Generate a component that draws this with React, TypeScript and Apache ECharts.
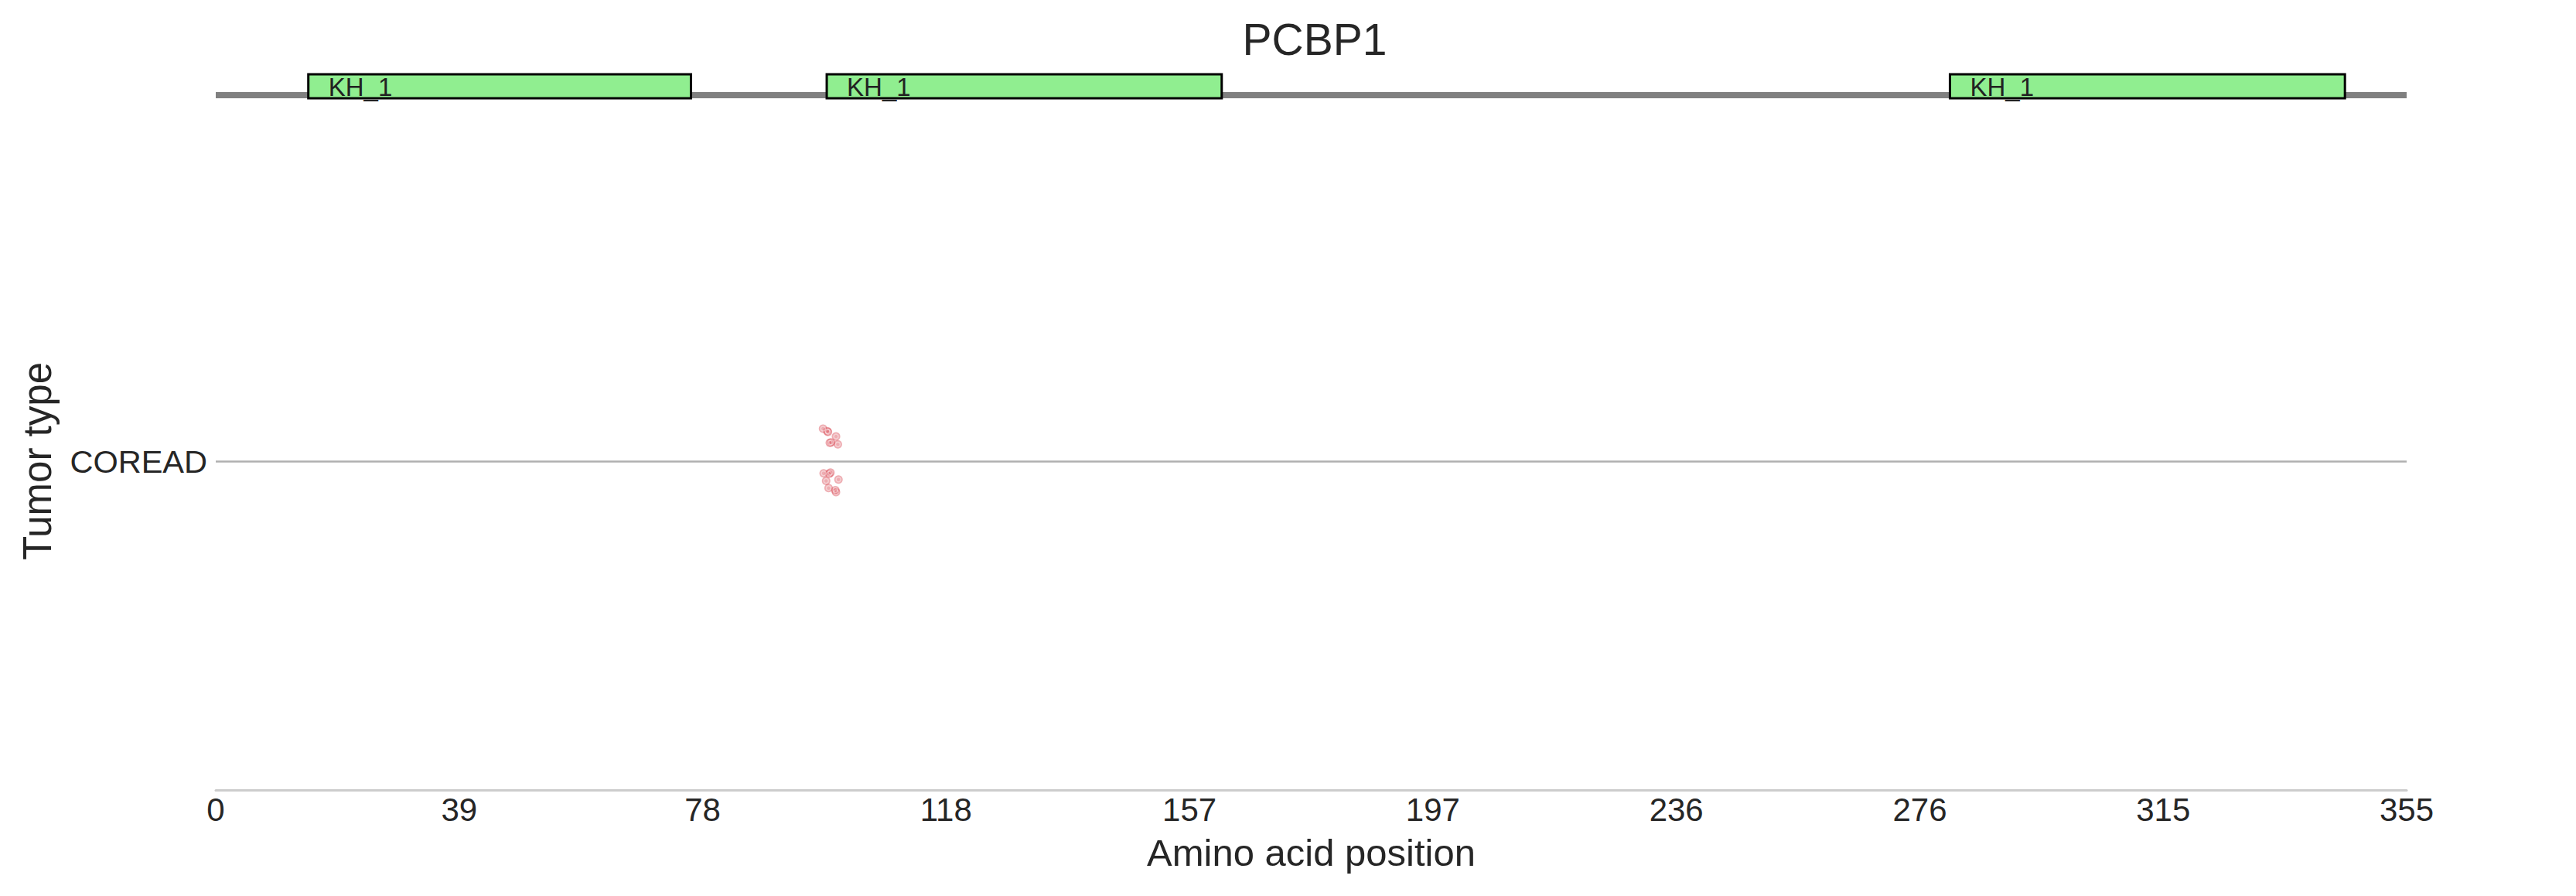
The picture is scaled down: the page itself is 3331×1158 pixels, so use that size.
import React, { useEffect, useRef } from "react";
import * as echarts from "echarts";

const geneName = "PCBP1";
const proteinLength = 355;
const tumorTypes = ["COREAD"];
const xTickLabels = ["0", "39", "78", "118", "157", "197", "236", "276", "315", "355"];

const domainNames = ["KH_1", "KH_1", "KH_1"];
const domainStarts = [15, 99, 281];
const domainEnds = [77, 163, 345];

// mutation positions (jittered) and vertical jitter around the COREAD row
const mutationX = [98.4, 99.1, 99.2, 100.5, 99.5, 99.7, 100.8, 98.5, 99.4, 99.6, 100.9, 98.9, 99.3, 100.4, 100.5];
const mutationY = [0.099, 0.091, 0.089, 0.075, 0.056, 0.057, 0.051, -0.037, -0.038, -0.035, -0.056, -0.06, -0.082, -0.088, -0.094];

const FONT = '"Liberation Sans", Arial, sans-serif';
const TEXT = "#262626";

export default function App() {
  const ref = useRef<HTMLDivElement>(null);
  useEffect(() => {
    if (!ref.current) return;
    const chart = echarts.init(ref.current, null, { renderer: "svg" });
    const step = proteinLength / (xTickLabels.length - 1);
    const points = mutationX.map((x, i) => [x, mutationY[i]]);
    const domains = domainStarts.map((s, i) => [s, domainEnds[i], domainNames[i]]);
    chart.setOption({
      animation: false,
      backgroundColor: "#ffffff",
      textStyle: { fontFamily: FONT, color: TEXT },
      title: {
        text: geneName,
        left: 1695,
        top: 17,
        textAlign: "center",
        textStyle: { fontFamily: FONT, fontSize: 57, fontWeight: "normal", color: TEXT },
      },
      grid: [
        { left: 279, right: 219, top: 171, bottom: 137 },
        { left: 279, right: 219, top: 96, height: 31 },
      ],
      xAxis: [
        {
          type: "value",
          gridIndex: 0,
          min: 0,
          max: proteinLength,
          interval: step,
          name: "Amino acid position",
          nameLocation: "middle",
          nameGap: 56,
          nameTextStyle: { fontFamily: FONT, fontSize: 49, color: TEXT },
          axisLine: { show: true, onZero: false, lineStyle: { color: "#cccccc", width: 3 } },
          axisTick: { show: false },
          splitLine: { show: false },
          axisLabel: {
            show: true,
            showMaxLabel: true,
            showMinLabel: true,
            margin: 4,
            fontFamily: FONT,
            fontSize: 42,
            color: TEXT,
            formatter: (v: number) => xTickLabels[Math.round(v / step)] ?? "",
          },
        },
        {
          type: "value",
          gridIndex: 1,
          min: 0,
          max: proteinLength,
          show: false,
        },
      ],
      yAxis: [
        {
          type: "value",
          gridIndex: 0,
          min: -1,
          max: 1,
          interval: 1,
          name: "Tumor type",
          nameLocation: "middle",
          nameGap: 205,
          nameRotate: 90,
          nameTextStyle: { fontFamily: FONT, fontSize: 51, color: TEXT },
          axisLine: { show: false },
          axisTick: { show: false },
          splitLine: {
            show: true,
            lineStyle: { color: ["rgba(0,0,0,0)", "#b0b0b0", "rgba(0,0,0,0)"], width: 2.5 },
          },
          axisLabel: {
            margin: 11,
            fontFamily: FONT,
            fontSize: 41.5,
            color: TEXT,
            formatter: (v: number) => (Math.abs(v) < 1e-9 ? tumorTypes[0] : ""),
          },
        },
        {
          type: "value",
          gridIndex: 1,
          min: 0,
          max: 1,
          show: false,
        },
      ],
      series: [
        {
          type: "line",
          xAxisIndex: 1,
          yAxisIndex: 1,
          data: [
            [0, 0.13],
            [proteinLength, 0.13],
          ],
          symbol: "none",
          silent: true,
          z: 2,
          lineStyle: { color: "#808080", width: 8 },
        },
        {
          type: "custom",
          xAxisIndex: 1,
          yAxisIndex: 1,
          clip: false,
          z: 3,
          silent: true,
          data: domains,
          renderItem: (params: any, api: any) => {
            const s = api.value(0);
            const e = api.value(1);
            const name = domains[params.dataIndex][2] as string;
            const p0 = api.coord([s, 1]);
            const p1 = api.coord([e, 0]);
            return {
              type: "group",
              children: [
                {
                  type: "rect",
                  shape: { x: p0[0], y: p0[1], width: p1[0] - p0[0], height: p1[1] - p0[1] },
                  style: { fill: "#90EE90", stroke: "#000000", lineWidth: 3 },
                },
                {
                  type: "text",
                  style: {
                    text: name,
                    x: p0[0] + 26,
                    y: (p0[1] + p1[1]) / 2 + 1,
                    verticalAlign: "middle",
                    align: "left",
                    fontFamily: FONT,
                    fontSize: 33,
                    fill: "#222222",
                  },
                },
              ],
            };
          },
        },
        {
          type: "scatter",
          xAxisIndex: 0,
          yAxisIndex: 0,
          data: points,
          symbol: "circle",
          symbolSize: 11,
          silent: true,
          z: 4,
          itemStyle: { color: "rgba(212, 50, 62, 0.5)", borderWidth: 0 },
        },
        {
          type: "scatter",
          xAxisIndex: 0,
          yAxisIndex: 0,
          data: points,
          symbol: "circle",
          symbolSize: 6,
          silent: true,
          z: 5,
          itemStyle: {
            color: "rgba(0,0,0,0)",
            borderColor: "rgba(255,255,255,0.55)",
            borderWidth: 1.5,
          },
        },
      ],
    });
    return () => chart.dispose();
  }, []);
  return (
    <div
      ref={ref}
      style={{ position: "fixed", left: 0, top: 0, width: 3331, height: 1158, background: "#fff" }}
    />
  );
}
